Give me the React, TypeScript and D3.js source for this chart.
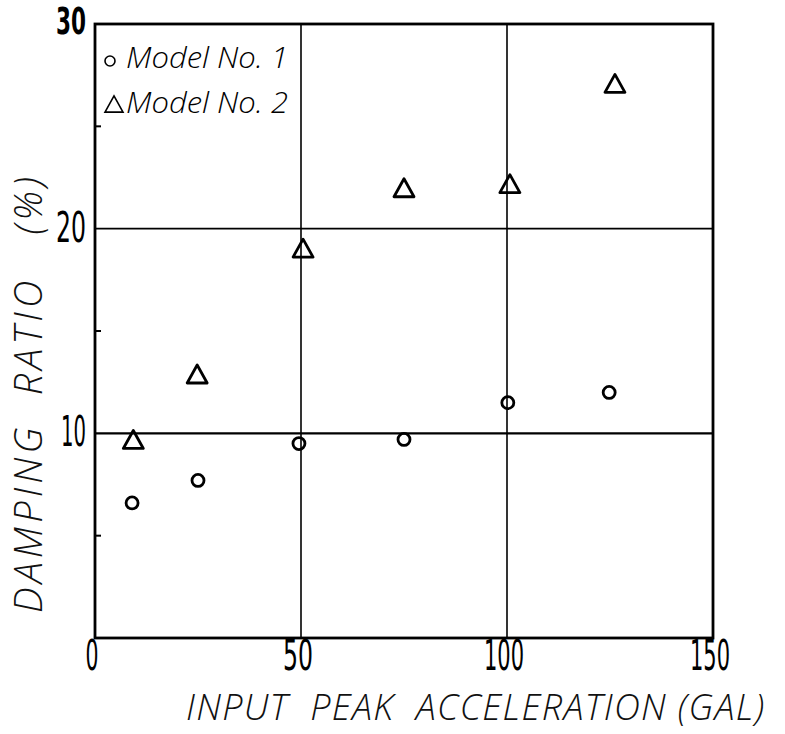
import React from "react";
import * as d3 from "d3";

const model1X = [9, 25, 49.5, 75, 100.2, 124.8];
const model1Y = [6.6, 7.7, 9.5, 9.7, 11.5, 12.0];
const model2X = [9.3, 24.8, 50.5, 75, 100.7, 126.2];
const model2Y = [9.7, 12.9, 19.05, 22.0, 22.2, 27.1];
const xTicks = [0, 50, 100, 150];
const yTicks = [10, 20, 30];
const xGrid = [50, 100];
const yGrid = [10, 20];
const yMinor = [5, 15, 25];
const legendLabels = ["Model No. 1", "Model No. 2"];
const xTitle = "INPUT  PEAK  ACCELERATION (GAL)";
const yTitle = "DAMPING  RATIO   (%)";

const W = 785;
const H = 734;
const L = 95, R = 713, T = 24, B = 638;

const x = d3.scaleLinear().domain([0, 150]).range([L, R]);
const y = d3.scaleLinear().domain([0, 30]).range([B, T]);

const digitFont = "'DejaVu Sans Condensed', 'Liberation Sans Narrow', 'Liberation Sans', sans-serif";
const titleFont = "'Open Sans', 'DejaVu Sans', sans-serif";

function tri(cx: number, cy: number, s: number) {
  const h = s * 0.9;
  return `M${cx},${cy - h / 2}L${cx + s / 2},${cy + h / 2}L${cx - s / 2},${cy + h / 2}Z`;
}

export default function App() {
  const digitWidth = (t: string) => (t.length === 1 ? 13 : t === "10" ? 25 : t.length === 2 ? 30 : 40);
  return (
    <svg width={W} height={H} style={{ position: "absolute", left: 0, top: 0, background: "#fff" }}>
      {/* gridlines */}
      {xGrid.map((v) => (
        <line key={"gx" + v} x1={x(v)} x2={x(v)} y1={T} y2={B} stroke="#000" strokeWidth={1.6} />
      ))}
      {yGrid.map((v) => (
        <line key={"gy" + v} x1={L} x2={R} y1={y(v)} y2={y(v)} stroke="#000" strokeWidth={v === 10 ? 2.2 : 1.6} />
      ))}
      {/* minor ticks */}
      {yMinor.map((v) => (
        <line key={"m" + v} x1={L} x2={L + 6} y1={y(v)} y2={y(v)} stroke="#000" strokeWidth={2} />
      ))}
      {/* frame */}
      <rect x={L} y={T} width={R - L} height={B - T} fill="none" stroke="#000" strokeWidth={2.8} />

      {/* tick labels */}
      {yTicks.map((v) => (
        <text
          key={"yt" + v}
          x={86 - digitWidth(String(v))}
          y={v === 30 ? y(v) + 10 : y(v) + 13}
          fontFamily={digitFont}
          fontSize={v === 30 ? 38 : 42}
          fontWeight={v === 30 ? "bold" : "normal"}
          textLength={digitWidth(String(v))}
          lengthAdjust="spacingAndGlyphs"
          fill="#000"
        >
          {v}
        </text>
      ))}
      {xTicks.map((v) => {
        const t = String(v);
        const w = digitWidth(t);
        return (
          <text
            key={"xt" + v}
            x={x(v) - 3 - w / 2}
            y={670}
            fontFamily={digitFont}
            fontSize={43}
            textLength={w}
            lengthAdjust="spacingAndGlyphs"
            fill="#000"
          >
            {t}
          </text>
        );
      })}

      {/* data */}
      {model1X.map((v, i) => (
        <circle key={"c" + i} cx={x(v)} cy={y(model1Y[i])} r={6} fill="none" stroke="#000" strokeWidth={2.8} />
      ))}
      {model2X.map((v, i) => (
        <path key={"t" + i} d={tri(x(v), y(model2Y[i]), 20)} fill="none" stroke="#000" strokeWidth={2.8} strokeLinejoin="round" />
      ))}

      {/* legend */}
      <circle cx={110} cy={61} r={5} fill="none" stroke="#000" strokeWidth={1.6} />
      <text x={126} y={68} fontFamily={titleFont} fontStyle="italic" fontWeight={300} fontSize={30} textLength={162} lengthAdjust="spacingAndGlyphs" fill="#000">
        {legendLabels[0]}
      </text>
      <path d={tri(114, 104, 18)} fill="none" stroke="#000" strokeWidth={1.6} />
      <text x={126} y={113} fontFamily={titleFont} fontStyle="italic" fontWeight={300} fontSize={30} textLength={162} lengthAdjust="spacingAndGlyphs" fill="#000">
        {legendLabels[1]}
      </text>

      {/* axis titles */}
      <text
        x={186}
        y={720}
        fontFamily={titleFont}
        fontStyle="italic"
        fontSize={36}
        fontWeight={300}
        textLength={578}
        lengthAdjust="spacing"
        fill="#111"
        style={{ whiteSpace: "pre" }}
      >
        {xTitle}
      </text>
      <text
        transform={`translate(42,613) rotate(-90)`}
        x={0}
        y={0}
        fontFamily={titleFont}
        fontStyle="italic"
        fontSize={38}
        fontWeight={300}
        textLength={436}
        lengthAdjust="spacing"
        fill="#111"
        style={{ whiteSpace: "pre" }}
      >
        {yTitle}
      </text>
    </svg>
  );
}
